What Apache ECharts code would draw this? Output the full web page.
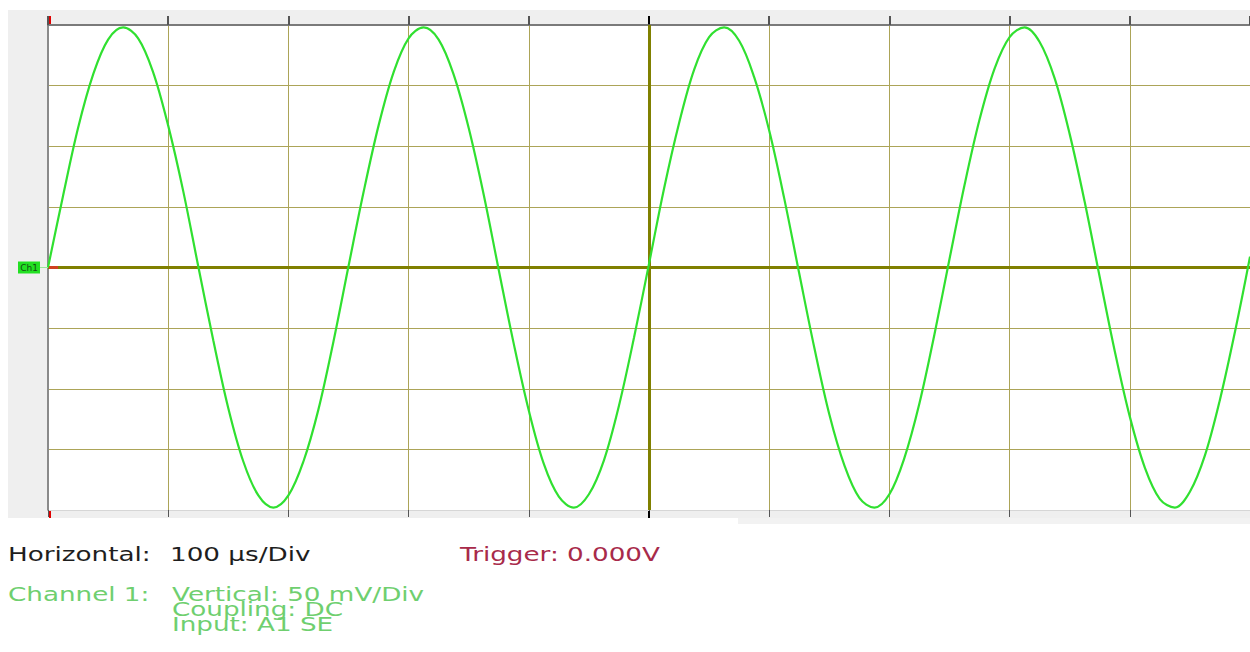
<!DOCTYPE html>
<html>
<head>
<meta charset="utf-8">
<script src="https://cdn.jsdelivr.net/npm/echarts@6/dist/echarts.min.js"></script>
<style>
html,body{margin:0;padding:0;background:#fff;}
#chart{width:1250px;height:652px;}
</style>
</head>
<body>
<div id="chart"></div>
<script>
// Time samples (µs) and channel 1 voltage (mV)
const timesUs = [
  0,12.5,25,37.5,50,62.5,75,87.5,100,112.5,125,137.5,150,162.5,175,187.5,200,212.5,225,237.5,
  250,262.5,275,287.5,300,312.5,325,337.5,350,362.5,375,387.5,400,412.5,425,437.5,450,462.5,475,487.5,
  500,512.5,525,537.5,550,562.5,575,587.5,600,612.5,625,637.5,650,662.5,675,687.5,700,712.5,725,737.5,
  750,762.5,775,787.5,800,812.5,825,837.5,850,862.5,875,887.5,900,912.5,925,937.5,950,962.5,975,987.5,
  1000
];
const ch1mV = [
  0,59,115,159,188,198,189,161,117,63,1,-60,-116,-160,-188,-198,-188,-160,-117,-61,
  1,62,117,161,189,198,188,159,115,60,-2,-63,-118,-162,-189,-198,-187,-159,-114,-58,
  3,65,119,163,190,198,187,157,113,57,-5,-66,-121,-163,-190,-198,-187,-157,-112,-55,
  7,68,122,164,190,198,186,156,110,54,-8,-69,-123,-165,-191,-198,-185,-155,-109,-53,
  9
];
const timeRange = [0, 1000];       // 10 div x 100 µs/Div
const timeDiv = 100;
const voltRange = [-200, 200];     // 8 div x 50 mV/Div
const voltDiv = 50;
const triggerTime = 500;
const groundLevel = 0;

const infoTexts = {
  horizontalLabel: 'Horizontal:',
  horizontalValue: '100 µs/Div',
  trigger: 'Trigger: 0.000V',
  channelLabel: 'Channel 1:',
  vertical: 'Vertical: 50 mV/Div',
  coupling: 'Coupling: DC',
  input: 'Input: A1 SE',
  marker: 'Ch1'
};

const chart = echarts.init(document.getElementById('chart'), null, {renderer: 'svg'});
const gridColor = '#aca458';
const centerColor = '#808000';

const data = timesUs.map((t, i) => [t, ch1mV[i]]);

const option = {
  animation: false,
  backgroundColor: '#ffffff',
  grid: {left: 48, top: 25, width: 1202, height: 485, show: false},
  xAxis: [
    {
      type: 'value', position: 'bottom', min: timeRange[0], max: timeRange[1], interval: timeDiv,
      axisLine: {show: true, onZero: false, lineStyle: {color: '#d6d6d6', width: 1}},
      axisTick: {show: true, inside: false, length: 7, lineStyle: {color: '#555555', width: 1}},
      axisLabel: {show: false},
      splitLine: {show: true, lineStyle: {color: gridColor, width: 1}}
    },
    {
      type: 'value', position: 'top', min: timeRange[0], max: timeRange[1], interval: timeDiv,
      axisLine: {show: true, onZero: false, lineStyle: {color: '#7a7a7a', width: 2}},
      axisTick: {show: true, inside: false, length: 9, lineStyle: {color: '#555555', width: 2}},
      axisLabel: {show: false},
      splitLine: {show: false}
    }
  ],
  yAxis: {
    type: 'value', min: voltRange[0], max: voltRange[1], interval: voltDiv,
    axisLine: {show: true, onZero: false, lineStyle: {color: '#8a8a8a', width: 2}},
    axisTick: {show: false},
    axisLabel: {show: false},
    splitLine: {show: true, lineStyle: {color: gridColor, width: 1}}
  },
  series: [{
    type: 'line',
    data: data,
    showSymbol: false,
    smooth: 0.35,
    lineStyle: {color: '#30e030', width: 2.2},
    z: 3,
    markLine: {
      silent: true,
      symbol: ['none', 'none'],
      label: {show: false},
      lineStyle: {color: centerColor, width: 3, type: 'solid'},
      data: [{xAxis: triggerTime}, {yAxis: groundLevel}],
      z: 2
    }
  }]
};
chart.setOption(option);

const x0 = chart.convertToPixel({xAxisIndex: 0}, timeRange[0]);
const x1 = chart.convertToPixel({xAxisIndex: 0}, timeRange[1]);
const xMid = chart.convertToPixel({xAxisIndex: 0}, triggerTime);
const yTop = chart.convertToPixel({yAxisIndex: 0}, voltRange[1]);
const yBot = chart.convertToPixel({yAxisIndex: 0}, voltRange[0]);
const yZero = chart.convertToPixel({yAxisIndex: 0}, groundLevel);

const txt = (x, y, text, fill, z) => ({
  type: 'text', x: x, y: y, scaleX: 1.38, z: z || 10, silent: true,
  style: {text: text, fill: fill, font: '19px "DejaVu Sans"', verticalAlign: 'middle', align: 'left'}
});

chart.setOption({
  graphic: [
    {type: 'rect', z: -10, silent: true, shape: {x: 8, y: 10, width: 1242, height: 508}, style: {fill: '#efefef'}},
    {type: 'rect', z: -10, silent: true, shape: {x: 738, y: 518, width: 512, height: 6}, style: {fill: '#f2f2f2'}},
    {type: 'rect', z: -9, silent: true, shape: {x: x0, y: yTop, width: x1 - x0, height: yBot - yTop}, style: {fill: '#ffffff'}},
    // red/black special ticks
    {type: 'line', z: 20, silent: true, shape: {x1: x0 + 2, y1: yTop - 9, x2: x0 + 2, y2: yTop - 1}, style: {stroke: '#e00000', lineWidth: 2}},
    {type: 'line', z: 20, silent: true, shape: {x1: x0 + 2, y1: yBot + 1, x2: x0 + 2, y2: yBot + 8}, style: {stroke: '#e00000', lineWidth: 2}},
    {type: 'line', z: 20, silent: true, shape: {x1: xMid, y1: yTop - 9, x2: xMid, y2: yTop - 1}, style: {stroke: '#000000', lineWidth: 2}},
    {type: 'line', z: 20, silent: true, shape: {x1: xMid, y1: yBot + 1, x2: xMid, y2: yBot + 8}, style: {stroke: '#000000', lineWidth: 2}},
    // red segment at start of ground line
    {type: 'line', z: 20, silent: true, shape: {x1: x0 + 1, y1: yZero, x2: x0 + 10, y2: yZero}, style: {stroke: '#d04020', lineWidth: 3}},
    // Ch1 marker
    {type: 'rect', z: 20, silent: true, shape: {x: 18, y: yZero - 6, width: 22, height: 12}, style: {fill: '#22e022'}},
    {type: 'line', z: 20, silent: true, shape: {x1: 40, y1: yZero, x2: x0, y2: yZero}, style: {stroke: '#9be79b', lineWidth: 1}},
    {type: 'text', z: 21, silent: true, x: 29, y: yZero, style: {text: infoTexts.marker, fill: '#124d12', font: '9px "DejaVu Sans"', align: 'center', verticalAlign: 'middle'}},
    // info texts
    txt(8, 554, infoTexts.horizontalLabel, '#1e1e1e'),
    txt(170, 554, infoTexts.horizontalValue, '#1e1e1e'),
    txt(460, 554, infoTexts.trigger, '#a82a4a'),
    txt(8, 594, infoTexts.channelLabel, '#6fcf6f'),
    txt(172, 594, infoTexts.vertical, '#6fcf6f'),
    txt(172, 609, infoTexts.coupling, '#6fcf6f'),
    txt(172, 624, infoTexts.input, '#6fcf6f')
  ]
});
</script>
</body>
</html>
